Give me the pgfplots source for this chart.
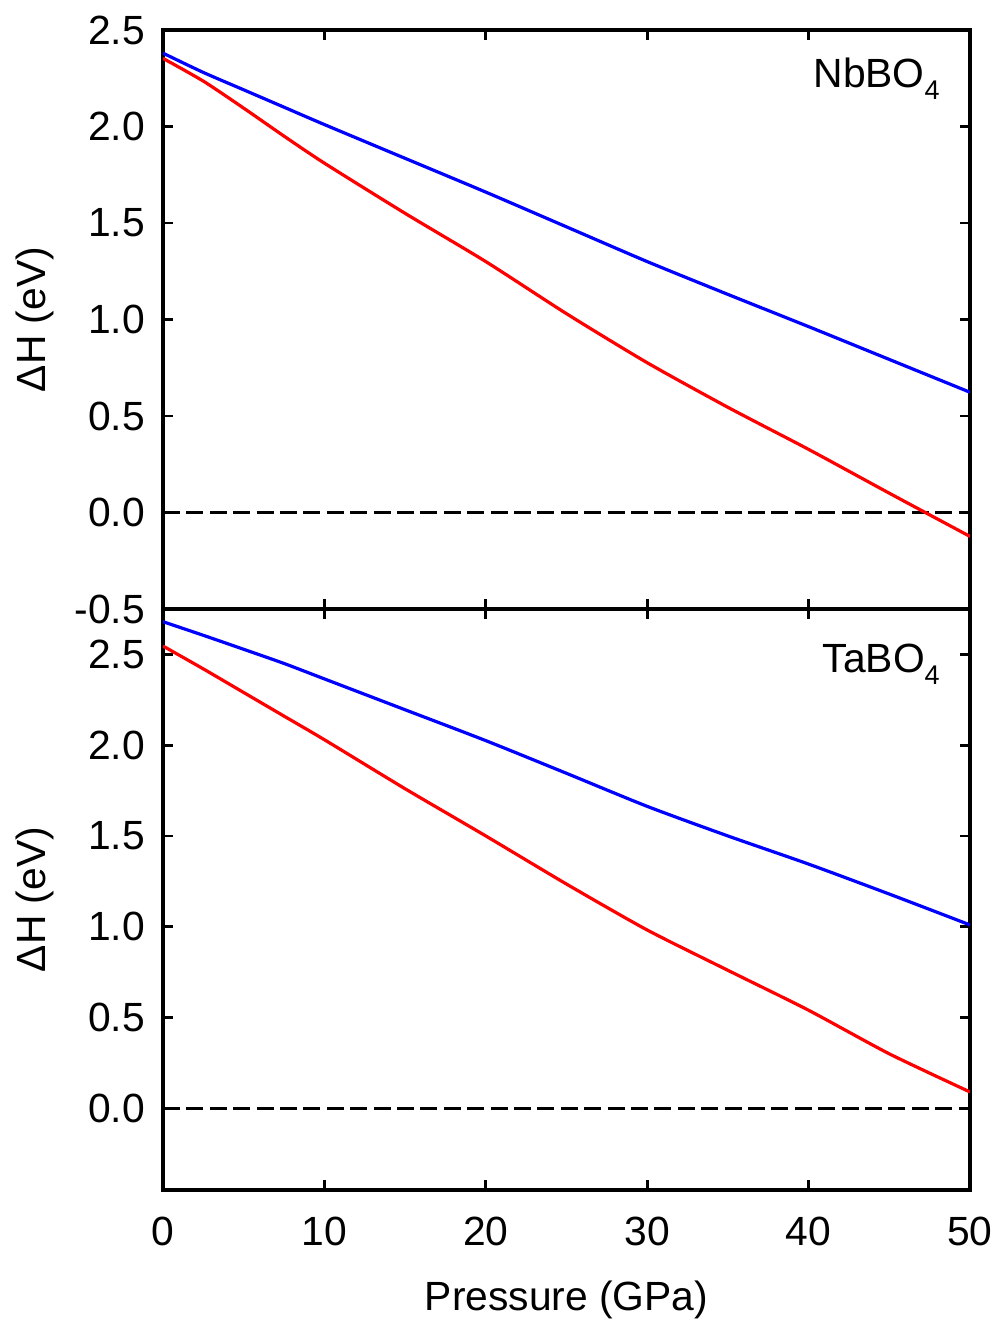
\documentclass[border=0pt]{standalone}
\usepackage{fontspec}
\setmainfont{Liberation Sans}
\usepackage{pgfplots}
\pgfplotsset{compat=1.18}

\definecolor{curveblue}{RGB}{0,0,255}
\definecolor{curvered}{RGB}{255,0,0}

\newcommand{\lblfont}{\fontsize{20.4}{24}\selectfont}
\newcommand{\sub}[1]{\raisebox{-6pt}{\fontsize{13.5}{15}\selectfont #1}}

\pgfplotsset{
  panel/.style={
    scale only axis,
    width=403.5pt,
    xmin=0, xmax=50,
    xtick={0,10,...,50},
    axis line style={line width=1.6pt},
    tick style={line width=1.4pt, black},
    major tick length=5pt,
    tick align=inside,
    ticks=major,
    /pgf/number format/assume math mode=true,
    tick label style={font=\lblfont},
    label style={font=\lblfont},
    yticklabel style={/pgf/number format/fixed, /pgf/number format/fixed zerofill,
      /pgf/number format/precision=1, xshift=-5.5pt},
    xticklabel style={yshift=-10pt},
    ylabel={ΔH (eV)},
    ylabel style={at={(axis description cs:-0.159,0.5)}, anchor=center},
    clip=true,
  },
  hline/.style={black, line width=1.4pt, dash pattern=on 8.5pt off 3.2pt},
  blueline/.style={curveblue, line width=1.6pt, smooth, tension=0.4},
  redline/.style={curvered, line width=1.6pt, smooth, tension=0.4},
}

\begin{document}
\begin{tikzpicture}
\useasboundingbox (0,0) rectangle (498pt,662pt);

% NbBO4
\begin{axis}[panel,
  at={(81.5pt,357.5pt)}, anchor=south west,
  height=289.5pt,
  ymin=-0.5, ymax=2.5,
  ytick={-0.5,0,0.5,1,1.5,2,2.5},
  xticklabels={},
]
\addplot[hline] coordinates {(0,0) (50,0)};
\addplot[blueline] coordinates {
  (0,2.38) (2.5,2.28) (5,2.19) (7.5,2.10) (10,2.01) (15,1.835) (20,1.66)
  (25,1.48) (30,1.30) (35,1.13) (40,0.963) (45,0.793) (50,0.623)};
\addplot[redline] coordinates {
  (0,2.353) (2.5,2.235) (5,2.095) (7.5,1.95) (10,1.81) (15,1.55) (20,1.30)
  (25,1.03) (30,0.776) (35,0.545) (40,0.327) (45,0.10) (50,-0.124)};
\node[anchor=base east, inner sep=0pt, font=\lblfont]
  at (axis description cs:0.963,0.900) {NbBO\sub{4}};
\end{axis}

% TaBO4
\begin{axis}[panel,
  at={(81.5pt,67pt)}, anchor=south west,
  height=290.5pt,
  ymin=-0.45, ymax=2.75,
  ytick={0,0.5,1,1.5,2,2.5},
  xlabel={Pressure (GPa)},
  xlabel style={at={(axis description cs:0.5,-0.189)}, anchor=center},
]
\addplot[hline] coordinates {(0,0) (50,0)};
\addplot[blueline] coordinates {
  (0,2.68) (2.5,2.605) (5,2.528) (7.5,2.45) (10,2.365) (15,2.195) (20,2.025)
  (25,1.845) (30,1.663) (35,1.50) (40,1.345) (45,1.18) (50,1.01)};
\addplot[redline] coordinates {
  (0,2.546) (2.5,2.42) (5,2.29) (7.5,2.16) (10,2.03) (15,1.76) (20,1.50)
  (25,1.235) (30,0.982) (35,0.76) (40,0.54) (45,0.30) (50,0.09)};
\node[anchor=base east, inner sep=0pt, font=\lblfont]
  at (axis description cs:0.963,0.890) {TaBO\sub{4}};
\end{axis}
\end{tikzpicture}
\end{document}
